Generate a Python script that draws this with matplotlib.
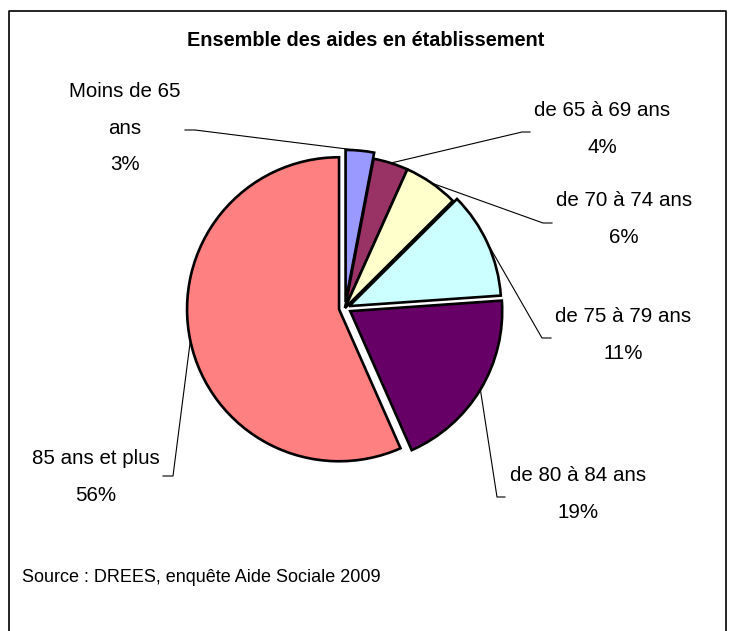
"""Pie chart: Ensemble des aides en etablissement, by age group (DREES 2009)."""
import matplotlib.pyplot as plt
import numpy as np
from matplotlib import font_manager
from matplotlib.lines import Line2D

# data
categories = ["Moins de 65\nans", "de 65 à 69 ans", "de 70 à 74 ans",
              "de 75 à 79 ans", "de 80 à 84 ans", "85 ans et plus"]
shares = [3.0, 3.7, 5.8, 11.3, 19.4, 56.4]
colors = ["#9999FF", "#993366", "#FFFFCC", "#CCFFFF", "#660066", "#FF8080"]
explode = [0.04, 0.0, 0.0, 0.03, 0.04, 0.04]

# pick a narrow face if one is installed, otherwise plain Arial metrics
installed = {f.name for f in font_manager.fontManager.ttflist}
narrow = [n for n in ("Liberation Sans Narrow", "DejaVu Sans Condensed") if n in installed]
if narrow:
    family, fs_label, fs_title, fs_source = narrow[0], 16, 15, 16
else:
    family, fs_label, fs_title, fs_source = "Liberation Sans", 14.8, 14.3, 13
plt.rcParams["font.family"] = [family, "DejaVu Sans"]

W, H = 734, 631
fig = plt.figure(figsize=(W / 100, H / 100), dpi=100)
ax = fig.add_axes([0, 0, 1, 1])

cx, cy, r = 345, H - 308, 152

wedges, _ = ax.pie(shares, colors=colors, explode=[e * r for e in explode],
                   startangle=90, counterclock=False, center=(cx, cy), radius=r,
                   wedgeprops=dict(edgecolor="black", linewidth=1.9))
ax.set_xlim(0, W)
ax.set_ylim(0, H)
ax.set_aspect("auto")
ax.axis("off")

# label layout (pixel positions, y from top): text centre, stub start/end
label_pos = [(125, 128), (602, 129), (624, 219), (623, 335), (578, 494), (96, 477)]
stubs = [((195, 130), (185, 130)), ((522, 132), (530, 132)),
         ((543, 223), (552, 223)), ((542, 338), (551, 338)),
         ((497, 497), (505, 497)), ((173, 476), (163, 476))]

for w, cat, val, (tx, ty), (p0, p1) in zip(wedges, categories, shares, label_pos, stubs):
    th = np.deg2rad((w.theta1 + w.theta2) / 2)
    wx, wy = w.center
    anchor = (wx + r * np.cos(th), wy + r * np.sin(th))
    ax.add_line(Line2D([anchor[0], p0[0], p1[0]], [anchor[1], H - p0[1], H - p1[1]],
                       color="black", linewidth=0.8))
    ax.text(tx, H - ty, f"{cat}\n{val:.0f}%", ha="center", va="center",
            fontsize=fs_label, linespacing=2.15)

fig.text(366 / W, 1 - 40 / H, "Ensemble des aides en établissement",
         ha="center", va="center", fontsize=fs_title, fontweight="bold")
fig.text(22 / W, 1 - 578 / H, "Source : DREES, enquête Aide Sociale 2009",
         ha="left", va="center", fontsize=fs_source)

# outer frame (open at the bottom)
fig.add_artist(Line2D([9 / W, 9 / W, 726 / W, 726 / W],
                      [0, 1 - 11 / H, 1 - 11 / H, 0],
                      transform=fig.transFigure, color="black", linewidth=1.2))

fig.savefig("out.png", dpi=100)
